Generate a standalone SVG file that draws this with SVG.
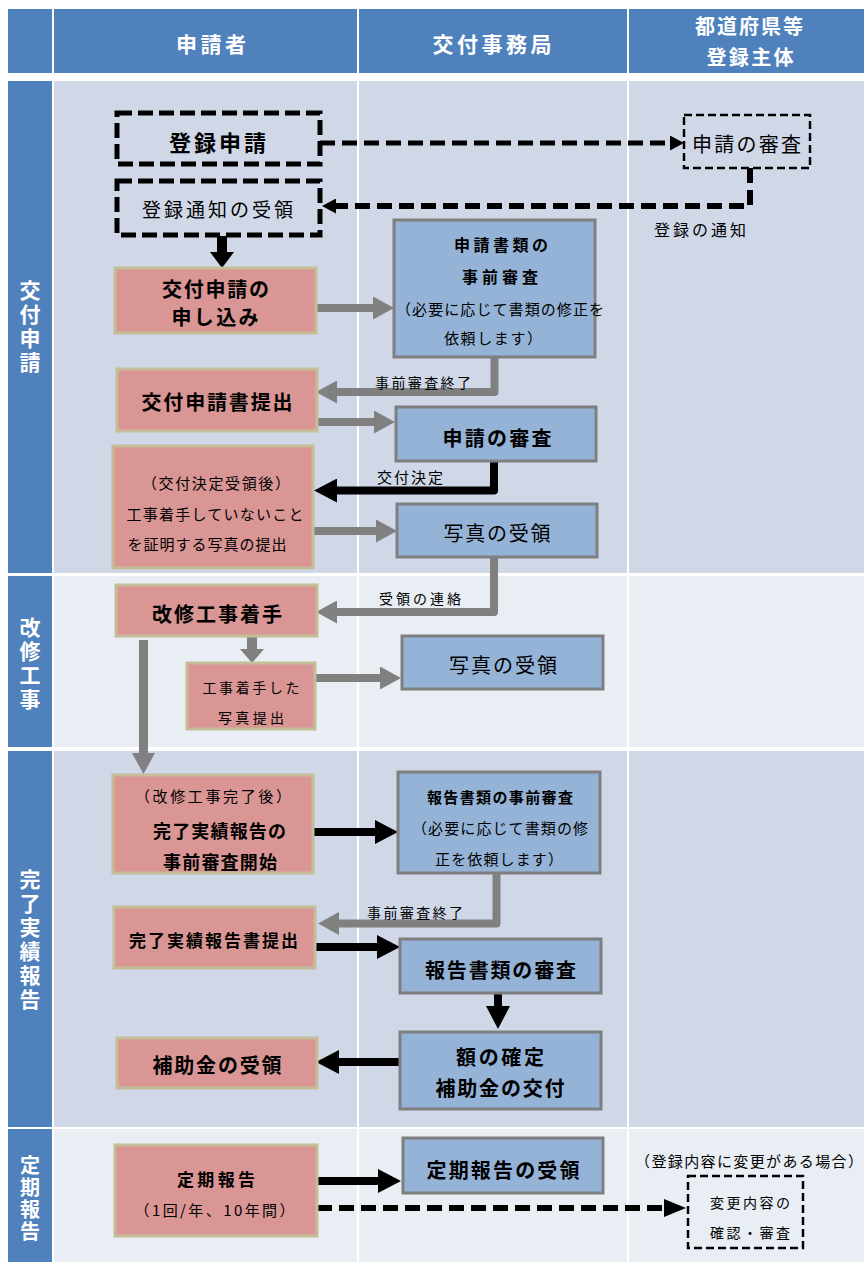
<svg xmlns="http://www.w3.org/2000/svg" width="864" height="1262" viewBox="0 0 864 1262">
<defs>
<style>
text{font-family:"Noto Sans CJK JP","Noto Sans",sans-serif;text-anchor:middle;dominant-baseline:central;fill:#000}
.hd{fill:#4F81BD}
.bA{fill:#D0D8E8}
.bB{fill:#E9EDF4}
.wt{fill:#fff;font-weight:bold}
.vt{writing-mode:vertical-rl;text-orientation:upright}
.b{font-weight:bold}
.pk{fill:#D99694;stroke:#C4BD97;stroke-width:3}
.bl{fill:#95B3D7;stroke:#7F7F7F;stroke-width:3}
.dk{fill:none;stroke:#000;stroke-width:5;stroke-dasharray:15 6}
.dt{fill:none;stroke:#000;stroke-width:2.5;stroke-dasharray:8 4}
.cg{fill:none;stroke:#808080;stroke-width:8;stroke-linejoin:round}
.ck{fill:none;stroke:#000;stroke-width:8;stroke-linejoin:round}
.cd{fill:none;stroke:#000;stroke-width:5;stroke-dasharray:15 7}
</style>
<marker id="mg" markerUnits="userSpaceOnUse" markerWidth="21" markerHeight="23" refX="0" refY="11.5" orient="auto"><path d="M0,0L21,11.5L0,23z" fill="#808080"/></marker>
<marker id="mg2" markerUnits="userSpaceOnUse" markerWidth="14" markerHeight="24" refX="0" refY="12" orient="auto"><path d="M0,0L14,12L0,24z" fill="#808080"/></marker>
<marker id="mk" markerUnits="userSpaceOnUse" markerWidth="23" markerHeight="24" refX="0" refY="12" orient="auto"><path d="M0,0L23,12L0,24z" fill="#000"/></marker>
<marker id="mk2" markerUnits="userSpaceOnUse" markerWidth="16" markerHeight="24" refX="0" refY="12" orient="auto"><path d="M0,0L16,12L0,24z" fill="#000"/></marker>
<marker id="md" markerUnits="userSpaceOnUse" markerWidth="14" markerHeight="15" refX="0" refY="7.5" orient="auto"><path d="M0,0L14,7.5L0,15z" fill="#000"/></marker>
<marker id="md2" markerUnits="userSpaceOnUse" markerWidth="22" markerHeight="18" refX="0" refY="9" orient="auto"><path d="M0,0L22,9L0,18z" fill="#000"/></marker>
</defs>
<rect width="864" height="1262" fill="#fff"/>
<g id="lanes">
<rect class="hd" x="8" y="9" width="44" height="64"/>
<rect class="hd" x="54" y="9" width="303" height="64"/>
<rect class="hd" x="359" y="9" width="268" height="64"/>
<rect class="hd" x="629" y="9" width="235" height="64"/>
<text class="wt" x="211" y="43" font-size="21" textLength="70">申請者</text>
<text class="wt" x="492" y="43" font-size="21" textLength="119">交付事務局</text>
<text class="wt" x="749" y="25" font-size="20" textLength="108">都道府県等</text>
<text class="wt" x="750" y="56" font-size="20" textLength="87">登録主体</text>

<rect class="hd" x="8" y="81" width="44" height="492"/>
<rect class="bA" x="54" y="81" width="303" height="492"/>
<rect class="bA" x="359" y="81" width="268" height="492"/>
<rect class="bA" x="629" y="81" width="235" height="492"/>
<text class="wt vt" x="30" y="328" font-size="21" letter-spacing="3">交付申請</text>

<rect class="hd" x="8" y="576" width="44" height="171"/>
<rect class="bB" x="54" y="576" width="303" height="171"/>
<rect class="bB" x="359" y="576" width="268" height="171"/>
<rect class="bB" x="629" y="576" width="235" height="171"/>
<text class="wt vt" x="30" y="664.5" font-size="21" letter-spacing="3">改修工事</text>

<rect class="hd" x="8" y="751" width="44" height="376"/>
<rect class="bA" x="54" y="751" width="303" height="376"/>
<rect class="bA" x="359" y="751" width="268" height="376"/>
<rect class="bA" x="629" y="751" width="235" height="376"/>
<text class="wt vt" x="30" y="940.5" font-size="21" letter-spacing="3">完了実績報告</text>

<rect class="hd" x="8" y="1129" width="44" height="133"/>
<rect class="bB" x="54" y="1129" width="303" height="133"/>
<rect class="bB" x="359" y="1129" width="268" height="133"/>
<rect class="bB" x="629" y="1129" width="235" height="133"/>
<text class="wt vt" x="30" y="1199.5" font-size="20" letter-spacing="2">定期報告</text>
</g>

<g id="connectors">
<path class="cd" d="M320,143H670" marker-end="url(#md)"/>
<path class="cd" style="stroke-width:6" d="M750,168V206H336" marker-end="url(#md)"/>
<path class="ck" style="stroke-width:10" d="M222,236V252" marker-end="url(#mk2)"/>
<path class="cg" d="M316,308H373" marker-end="url(#mg)"/>
<path class="cg" d="M494.5,357V392H337" marker-end="url(#mg)"/>
<path class="cg" d="M317,422H374" marker-end="url(#mg)"/>
<path class="ck" d="M494,461V490.5H337" marker-end="url(#mk)"/>
<path class="cg" d="M313,531H376" marker-end="url(#mg)"/>
<path class="cg" d="M494,557V612H337" marker-end="url(#mg)"/>
<path class="cg" style="stroke-width:10" d="M252,636V649" marker-end="url(#mg2)"/>
<path class="cg" d="M315,678H380" marker-end="url(#mg)"/>
<path class="cg" style="stroke-width:9" d="M143.5,640V753" marker-end="url(#mg)"/>
<path class="ck" d="M313,832H375" marker-end="url(#mk)"/>
<path class="cg" d="M496.5,873V923.5H339" marker-end="url(#mg)"/>
<path class="ck" d="M315,947H377" marker-end="url(#mk)"/>
<path class="ck" d="M498,993V1006" marker-end="url(#mk)"/>
<path class="ck" d="M400,1062H339" marker-end="url(#mk)"/>
<path class="ck" d="M317,1181H378" marker-end="url(#mk)"/>
<path class="cd" style="stroke-width:6" d="M317,1208H664" marker-end="url(#md2)"/>
<text x="700" y="229" font-size="16" textLength="92">登録の通知</text>
<text x="423" y="382" font-size="14" textLength="96">事前審査終了</text>
<text x="410" y="476" font-size="15" textLength="66">交付決定</text>
<text x="420" y="598" font-size="14" textLength="82">受領の連絡</text>
<text x="415" y="912" font-size="14" textLength="96">事前審査終了</text>
<text x="749" y="1160" font-size="15" textLength="228">（登録内容に変更がある場合）</text>
</g>

<g id="n-touroku-shinsei">
<rect class="dk" x="117" y="113" width="203" height="51"/>
<text class="b" x="217.5" y="141" font-size="22" textLength="97">登録申請</text>
</g>
<g id="n-touroku-tsuchi">
<rect class="dk" x="117" y="181" width="203" height="54"/>
<text x="217.5" y="208" font-size="19" textLength="151">登録通知の受領</text>
</g>
<g id="n-shinsei-shinsa-reg">
<rect class="dt" x="684" y="115" width="126" height="53"/>
<text x="746.5" y="143" font-size="20" textLength="109">申請の審査</text>
</g>
<g id="n-koufu-moushikomi">
<rect class="pk" x="115" y="268" width="201" height="65"/>
<text class="b" x="215.5" y="288" font-size="20" textLength="107">交付申請の</text>
<text class="b" x="215" y="316" font-size="20" textLength="87">申し込み</text>
</g>
<g id="n-shorui-jizen">
<rect class="bl" x="394" y="220" width="201" height="137"/>
<text class="b" x="501" y="244" font-size="16" textLength="94">申請書類の</text>
<text class="b" x="500" y="276" font-size="16" textLength="76">事前審査</text>
<text x="500" y="308" font-size="15" textLength="208">（必要に応じて書類の修正を</text>
<text x="493" y="337" font-size="15" textLength="98">依頼します）</text>
</g>
<g id="n-koufu-teishutsu">
<rect class="pk" x="117" y="369" width="200" height="62"/>
<text class="b" x="217" y="401" font-size="20" textLength="151">交付申請書提出</text>
</g>
<g id="n-shinsei-shinsa">
<rect class="bl" x="396" y="407" width="200" height="54"/>
<text class="b" x="497" y="437" font-size="20" textLength="109">申請の審査</text>
</g>
<g id="n-shashin-teishutsu">
<rect class="pk" x="113" y="446" width="200" height="122"/>
<text x="216" y="482" font-size="15" textLength="148">（交付決定受領後）</text>
<text x="215" y="513" font-size="15" textLength="177">工事着手していないこと</text>
<text x="207" y="543" font-size="15" textLength="159">を証明する写真の提出</text>
</g>
<g id="n-shashin-juryo1">
<rect class="bl" x="397" y="504" width="200" height="53"/>
<text x="497" y="532" font-size="20" textLength="107">写真の受領</text>
</g>
<g id="n-kaishu-chakushu">
<rect class="pk" x="116" y="585" width="201" height="51"/>
<text class="b" x="217" y="613" font-size="20" textLength="130">改修工事着手</text>
</g>
<g id="n-chakushu-shashin">
<rect class="pk" x="187" y="663" width="128" height="66"/>
<text x="251" y="687" font-size="14" textLength="97">工事着手した</text>
<text x="251" y="717" font-size="14" textLength="66">写真提出</text>
</g>
<g id="n-shashin-juryo2">
<rect class="bl" x="402" y="636" width="201" height="53"/>
<text x="503" y="664" font-size="20" textLength="108">写真の受領</text>
</g>
<g id="n-kanryo-jizen">
<rect class="pk" x="113" y="775" width="200" height="98"/>
<text x="213" y="795" font-size="15" textLength="156">（改修工事完了後）</text>
<text class="b" x="219.5" y="830" font-size="18" textLength="133">完了実績報告の</text>
<text class="b" x="220" y="861" font-size="18" textLength="114">事前審査開始</text>
</g>
<g id="n-houkoku-jizen">
<rect class="bl" x="398" y="772" width="202" height="101"/>
<text class="b" x="500" y="796" font-size="15" textLength="146">報告書類の事前審査</text>
<text x="500" y="827" font-size="15" textLength="176">（必要に応じて書類の修</text>
<text x="499" y="858" font-size="15" textLength="128">正を依頼します）</text>
</g>
<g id="n-kanryo-teishutsu">
<rect class="pk" x="114" y="907" width="201" height="61"/>
<text class="b" x="213.5" y="939" font-size="17" textLength="169">完了実績報告書提出</text>
</g>
<g id="n-houkoku-shinsa">
<rect class="bl" x="400" y="939" width="201" height="54"/>
<text class="b" x="500.5" y="969" font-size="20" textLength="151">報告書類の審査</text>
</g>
<g id="n-gaku-kakutei">
<rect class="bl" x="400" y="1032" width="201" height="77"/>
<text class="b" x="500" y="1056" font-size="20" textLength="88">額の確定</text>
<text class="b" x="500" y="1087" font-size="20" textLength="129">補助金の交付</text>
</g>
<g id="n-hojokin-juryo">
<rect class="pk" x="117" y="1038" width="200" height="50"/>
<text class="b" x="217" y="1064" font-size="20" textLength="129">補助金の受領</text>
</g>
<g id="n-teiki-houkoku">
<rect class="pk" x="115" y="1145" width="202" height="91"/>
<text class="b" x="216" y="1178" font-size="17" textLength="78">定期報告</text>
<text x="214.5" y="1209" font-size="15" textLength="160">（1回/年、10年間）</text>
</g>
<g id="n-teiki-juryo">
<rect class="bl" x="403" y="1138" width="200" height="55"/>
<text class="b" x="503" y="1169" font-size="20" textLength="153">定期報告の受領</text>
</g>
<g id="n-henko-shinsa">
<rect class="dt" x="688" y="1176" width="115" height="72"/>
<text x="750" y="1202" font-size="14" textLength="80">変更内容の</text>
<text x="750" y="1232" font-size="14" textLength="80">確認・審査</text>
</g>
</svg>
